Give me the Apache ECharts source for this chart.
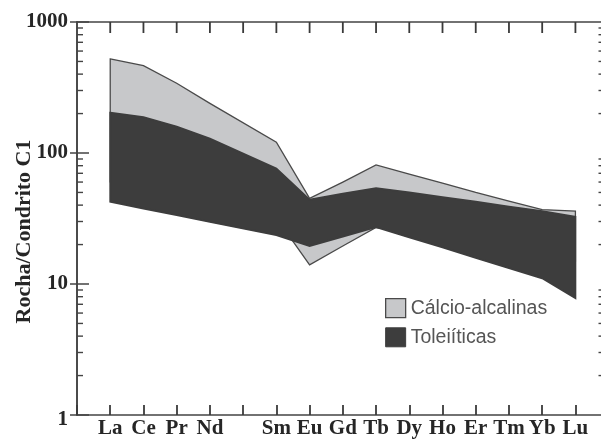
<!DOCTYPE html>
<html>
<head>
<meta charset="utf-8">
<script src="https://cdn.jsdelivr.net/npm/echarts@6/dist/echarts.min.js"></script>
<style>
  html, body { margin: 0; padding: 0; background: #ffffff; }
  #chart { width: 601px; height: 441px; }
</style>
</head>
<body>
<div id="chart"></div>
<script>
// Rare-earth elements, chondrite-normalised (C1)
const elements = ['La', 'Ce', 'Pr', 'Nd', 'Sm', 'Eu', 'Gd', 'Tb', 'Dy', 'Ho', 'Er', 'Tm', 'Yb', 'Lu'];
// position of each element along the lanthanide row (slot 5 = Pm, not analysed)
const slots = [1, 2, 3, 4, 6, 7, 8, 9, 10, 11, 12, 13, 14, 15];

// calc-alkaline field: upper and lower envelope
const calcAlkUpper = [522, 464, 341, 239, 121, 45, 60, 81, 69, 59, 50, 43, 37, 36];
const calcAlkLower = [60, 54, 48, 43, 32, 14, 19.5, 27, 25, 23, 21, 19, 17, 15];

// tholeiitic field: upper and lower envelope
const tholUpper = [203, 188, 159, 129, 76, 44, 49, 54, 50, 46, 42.5, 39, 36, 32.6];
const tholLower = [42.5, 37.7, 33.5, 29.8, 23.6, 19.5, 23, 27.2, 22.7, 19, 15.8, 13.2, 11.05, 7.8];

const seriesNames = ['Cálcio-alcalinas', 'Toleiíticas'];
const yMinorTicks = [2, 3, 4, 5, 6, 7, 8, 9, 20, 30, 40, 50, 60, 70, 80, 90, 200, 300, 400, 500, 600, 700, 800, 900];
// tick marks along the top frame, one per lanthanide slot
const topTicks = [1, 2, 3, 4, 5, 6, 7, 8, 9, 10, 11, 12, 13, 14, 15];

const X_MIN = 0, X_MAX = 15.8, Y_MAX = 1000;
const AXIS_COLOR = '#444444';
const LABEL_FONT = { fontFamily: 'Liberation Serif', fontWeight: 'bold', fontSize: 21, color: '#262626' };

const fills = [
  { fill: '#c7c8ca', stroke: '#4a4a4a', lineWidth: 1.3 },
  { fill: '#3d3d3d', stroke: '#3d3d3d', lineWidth: 1.8 }
];

function bandItem(styleIdx) {
  return function (params, api) {
    if (params.dataIndexInside !== 0) return null;
    const n = params.dataInsideLength;
    const pts = [];
    for (let i = 0; i < n; i++) pts.push(api.coord([api.value(0, i), api.value(1, i)]));
    for (let i = n - 1; i >= 0; i--) pts.push(api.coord([api.value(0, i), api.value(2, i)]));
    return { type: 'polygon', shape: { points: pts }, style: fills[styleIdx] };
  };
}

function minorTickItem(params, api) {
  const v = api.value(1);
  const l = api.coord([X_MIN, v]);
  const r = api.coord([X_MAX, v]);
  const st = { stroke: AXIS_COLOR, lineWidth: 1.4 };
  return {
    type: 'group',
    children: [
      { type: 'line', shape: { x1: l[0], y1: l[1], x2: l[0] + 6, y2: l[1] }, style: st },
      { type: 'line', shape: { x1: r[0], y1: r[1], x2: r[0] - 3.5, y2: r[1] }, style: st }
    ]
  };
}

function topTickItem(params, api) {
  const p = api.coord([api.value(0), api.value(1)]);
  return {
    type: 'line',
    shape: { x1: p[0], y1: p[1], x2: p[0], y2: p[1] + 11 },
    style: { stroke: '#3a3a3a', lineWidth: 1.8 }
  };
}

const chart = echarts.init(document.getElementById('chart'), null, { renderer: 'canvas' });

chart.setOption({
  backgroundColor: '#ffffff',
  animation: false,
  grid: { left: 77, top: 22, width: 525, height: 393, containLabel: false, outerBoundsMode: 'none' },
  legend: {
    orient: 'vertical',
    left: 380,
    top: 293,
    itemWidth: 20,
    itemHeight: 19,
    itemGap: 9,
    icon: 'rect',
    selectedMode: false,
    textStyle: { fontFamily: 'Liberation Sans', fontSize: 19.5, color: '#555555' },
    data: [
      { name: seriesNames[0], itemStyle: { color: fills[0].fill, borderColor: '#4a4a4a', borderWidth: 1.3 } },
      { name: seriesNames[1], itemStyle: { color: fills[1].fill, borderColor: '#3d3d3d', borderWidth: 1 } }
    ]
  },
  xAxis: [
    {
      type: 'value', position: 'bottom', min: X_MIN, max: X_MAX, interval: 1,
      axisLine: { show: true, lineStyle: { color: AXIS_COLOR, width: 1.6 } },
      axisTick: { show: true, inside: true, length: 10, lineStyle: { color: '#3a3a3a', width: 1.8 } },
      splitLine: { show: false },
      axisLabel: {
        show: true, margin: 3, ...LABEL_FONT,
        showMinLabel: true, showMaxLabel: true,
        formatter: function (v) {
          const i = slots.indexOf(v);
          return i >= 0 ? elements[i] : '';
        }
      }
    },
    {
      type: 'value', position: 'top', min: X_MIN, max: X_MAX, interval: 1,
      axisLine: { show: true, lineStyle: { color: AXIS_COLOR, width: 1.6 } },
      axisTick: { show: false },
      splitLine: { show: false },
      axisLabel: { show: false }
    }
  ],
  yAxis: [
    {
      type: 'log', logBase: 10, min: 1, max: Y_MAX, position: 'left',
      name: 'Rocha/Condrito C1',
      nameLocation: 'middle',
      nameRotate: 90,
      nameGap: 42,
      nameMoveOverlap: false,
      nameTextStyle: {
        fontFamily: 'Liberation Serif', fontWeight: 'bold', fontSize: 22, color: '#262626',
        padding: [0, 26, 0, 0]
      },
      axisLine: { show: true, lineStyle: { color: AXIS_COLOR, width: 1.6 } },
      axisTick: { show: true, inside: true, length: 12, lineStyle: { color: AXIS_COLOR, width: 1.5 } },
      splitLine: { show: false },
      axisLabel: {
        show: true, margin: 9, ...LABEL_FONT,
        formatter: function (v) { return v === 1 ? '{low|1}' : String(v); },
        rich: { low: { ...LABEL_FONT, padding: [10, 0, 0, 0] } }
      }
    },
    {
      type: 'log', logBase: 10, min: 1, max: Y_MAX, position: 'right',
      axisLine: { show: true, lineStyle: { color: AXIS_COLOR, width: 1.6 } },
      axisTick: { show: true, inside: true, length: 7, lineStyle: { color: AXIS_COLOR, width: 1.5 } },
      splitLine: { show: false },
      axisLabel: { show: false }
    }
  ],
  series: [
    {
      name: seriesNames[0],
      type: 'custom',
      xAxisIndex: 0, yAxisIndex: 0,
      itemStyle: { color: fills[0].fill, borderColor: '#4a4a4a', borderWidth: 1.3 },
      renderItem: bandItem(0),
      encode: { x: 0, y: [1, 2] },
      data: slots.map((s, i) => [s, calcAlkUpper[i], calcAlkLower[i]]),
      z: 2
    },
    {
      name: seriesNames[1],
      type: 'custom',
      xAxisIndex: 0, yAxisIndex: 0,
      itemStyle: { color: fills[1].fill },
      renderItem: bandItem(1),
      encode: { x: 0, y: [1, 2] },
      data: slots.map((s, i) => [s, tholUpper[i], tholLower[i]]),
      z: 3
    },
    {
      name: 'minorTicks',
      type: 'custom',
      xAxisIndex: 0, yAxisIndex: 0,
      silent: true,
      clip: false,
      renderItem: minorTickItem,
      encode: { x: 0, y: 1 },
      data: yMinorTicks.map(v => [X_MIN, v]),
      z: 4
    },
    {
      name: 'topTicks',
      type: 'custom',
      xAxisIndex: 0, yAxisIndex: 0,
      silent: true,
      clip: false,
      renderItem: topTickItem,
      encode: { x: 0, y: 1 },
      data: topTicks.map(v => [v, Y_MAX]),
      z: 4
    }
  ]
});
</script>
</body>
</html>
